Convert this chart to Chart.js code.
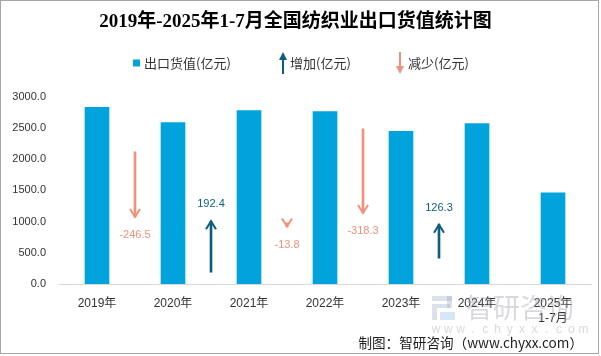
<!DOCTYPE html>
<html><head><meta charset="utf-8">
<script src="https://cdn.jsdelivr.net/npm/chart.js@4"></script>
<style>html,body{margin:0;padding:0;background:#fff;}#wrap{width:601px;height:356px;position:relative;}</style>
</head><body><div id="wrap"><canvas id="c" width="601" height="356"></canvas></div>
<script>
const titleText = '2019年-2025年1-7月全国纺织业出口货值统计图';
const categories = [['2019年'], ['2020年'], ['2021年'], ['2022年'], ['2023年'], ['2024年'], ['2025年', '1-7月']];
const exportValues = [2831.5, 2585.0, 2777.4, 2763.6, 2445.3, 2571.6, 1461.0];
const changeValues = [-246.5, 192.4, -13.8, -318.3, 126.3];
const arrowBase = [500, 45, 231, 587, 98];
const yTicks = [0, 500, 1000, 1500, 2000, 2500, 3000];
const legendLabels = ['出口货值(亿元)', '增加(亿元)', '减少(亿元)'];
const footerText = '制图：智研咨询（www.chyxx.com）';

const BLUE = '#00A3DC', TEAL = '#0E5E80', SALMON = '#F2907A';
const SANS = "'Liberation Sans','Noto Sans CJK SC',sans-serif";
const CJK = "'Noto Sans CJK SC',sans-serif";

const decor = {
  id: 'decor',
  afterDatasetsDraw(chart) {
    const ctx = chart.ctx;
    const y2 = chart.scales.y2;
    const meta = chart.getDatasetMeta(1);
    ctx.save();
    meta.data.forEach((el, i) => {
      const d = changeValues[i];
      const col = d < 0 ? SALMON : TEAL;
      const tipY = y2.getPixelForValue(arrowBase[i] + d);
      const x = el.x;
      const dir = d < 0 ? 1 : -1;
      ctx.strokeStyle = col; ctx.lineWidth = 2; ctx.lineJoin = 'miter';
      ctx.beginPath();
      ctx.moveTo(x - 5, tipY - dir * 8);
      ctx.lineTo(x, tipY);
      ctx.lineTo(x + 5, tipY - dir * 8);
      ctx.stroke();
      ctx.fillStyle = col;
      ctx.font = '11px ' + SANS;
      ctx.textAlign = 'center'; ctx.textBaseline = 'middle';
      ctx.fillText(d.toFixed(1), x, tipY + (d < 0 ? 18 : -17));
    });
    ctx.restore();
  },
  afterDraw(chart) {
    const ctx = chart.ctx;
    ctx.save();
    // legend
    const ly = 63;
    ctx.font = '13px ' + CJK;
    ctx.textBaseline = 'middle'; ctx.textAlign = 'left';
    ctx.fillStyle = BLUE;
    ctx.fillRect(133, ly - 3.5, 7, 7);
    ctx.fillStyle = '#333';
    ctx.fillText(legendLabels[0], 144, ly);
    ctx.strokeStyle = TEAL; ctx.fillStyle = TEAL; ctx.lineWidth = 2;
    ctx.beginPath(); ctx.moveTo(283, 74); ctx.lineTo(283, 58); ctx.stroke();
    ctx.beginPath(); ctx.moveTo(283, 52); ctx.lineTo(287, 60); ctx.lineTo(279, 60); ctx.closePath(); ctx.fill();
    ctx.fillStyle = '#333';
    ctx.fillText(legendLabels[1], 290, ly);
    ctx.strokeStyle = SALMON; ctx.fillStyle = SALMON;
    ctx.beginPath(); ctx.moveTo(400, 52); ctx.lineTo(400, 68); ctx.stroke();
    ctx.beginPath(); ctx.moveTo(400, 74); ctx.lineTo(404, 66); ctx.lineTo(396, 66); ctx.closePath(); ctx.fill();
    ctx.fillStyle = '#333';
    ctx.fillText(legendLabels[2], 408, ly);
    // watermark
    ctx.fillStyle = 'rgba(120,140,170,0.25)';
    ctx.fillRect(432, 296, 20, 5);
    ctx.fillRect(447, 296, 5, 12);
    ctx.fillRect(432, 304, 18, 4);
    ctx.fillRect(432, 308, 5, 12);
    ctx.fillStyle = 'rgba(110,170,220,0.28)';
    ctx.fillRect(440, 312, 15, 8);
    ctx.fillStyle = 'rgba(150,155,165,0.38)';
    ctx.font = '27px ' + CJK;
    ctx.textAlign = 'left';
    ctx.fillText('智研咨询', 466, 308);
    ctx.font = '12px ' + SANS;
    ctx.textAlign = 'center';
    const wm = 'www.chyxx.com';
    for (let k = 0; k < wm.length; k++) ctx.fillText(wm[k], 436 + k * 12.3, 330);
    // footer
    ctx.fillStyle = '#222';
    ctx.font = '13.6px ' + CJK;
    ctx.textAlign = 'right';
    ctx.fillText(footerText, 583, 343);
    // border
    ctx.strokeStyle = '#a6a6a6'; ctx.lineWidth = 1;
    ctx.strokeRect(0.5, 0.5, 598, 353);
    ctx.restore();
  }
};

new Chart(document.getElementById('c'), {
  data: {
    datasets: [
      {
        type: 'bar',
        label: legendLabels[0],
        data: exportValues.map((v, i) => ({ x: i, y: v })),
        backgroundColor: BLUE,
        barThickness: 24,
        grouped: false,
        xAxisID: 'x', yAxisID: 'y'
      },
      {
        type: 'bar',
        label: '变化',
        data: changeValues.map((d, i) => ({ x: i + 0.5, y: [arrowBase[i], arrowBase[i] + d] })),
        backgroundColor: changeValues.map(d => d < 0 ? SALMON : TEAL),
        barThickness: 2,
        grouped: false,
        xAxisID: 'x', yAxisID: 'y2'
      }
    ]
  },
  options: {
    responsive: false,
    animation: false,
    layout: { padding: { left: 0, right: 10, top: 0, bottom: 0 } },
    plugins: {
      legend: { display: false },
      tooltip: { enabled: false },
      title: {
        display: true, text: titleText, color: '#000',
        font: { size: 19, weight: 'bold', family: "'Liberation Serif','Noto Sans CJK SC',serif" },
        padding: { top: 11, bottom: 63 }
      }
    },
    scales: {
      x: {
        type: 'linear', min: -0.5, max: 6.5, offset: false,
        afterBuildTicks: s => { s.ticks = categories.map((_, i) => ({ value: i })); },
        afterFit: s => { s.height = 72; },
        grid: { display: false, drawTicks: false },
        border: { display: true, color: '#d9d9d9', width: 1 },
        ticks: {
          autoSkip: false, maxRotation: 0, padding: 12, color: '#333',
          font: { size: 12, family: SANS, lineHeight: 1.25 },
          callback: v => categories[v]
        }
      },
      y: {
        min: 0, max: 3000,
        afterBuildTicks: s => { s.ticks = yTicks.map(v => ({ value: v })); },
        afterFit: s => { s.width = 59; },
        grid: { display: false, drawTicks: false },
        border: { display: false },
        ticks: { padding: 13, color: '#333', font: { size: 11, family: SANS }, callback: v => Number(v).toFixed(1) }
      },
      y2: { min: 0, max: 708, display: false }
    }
  },
  plugins: [decor]
});
</script></body></html>
